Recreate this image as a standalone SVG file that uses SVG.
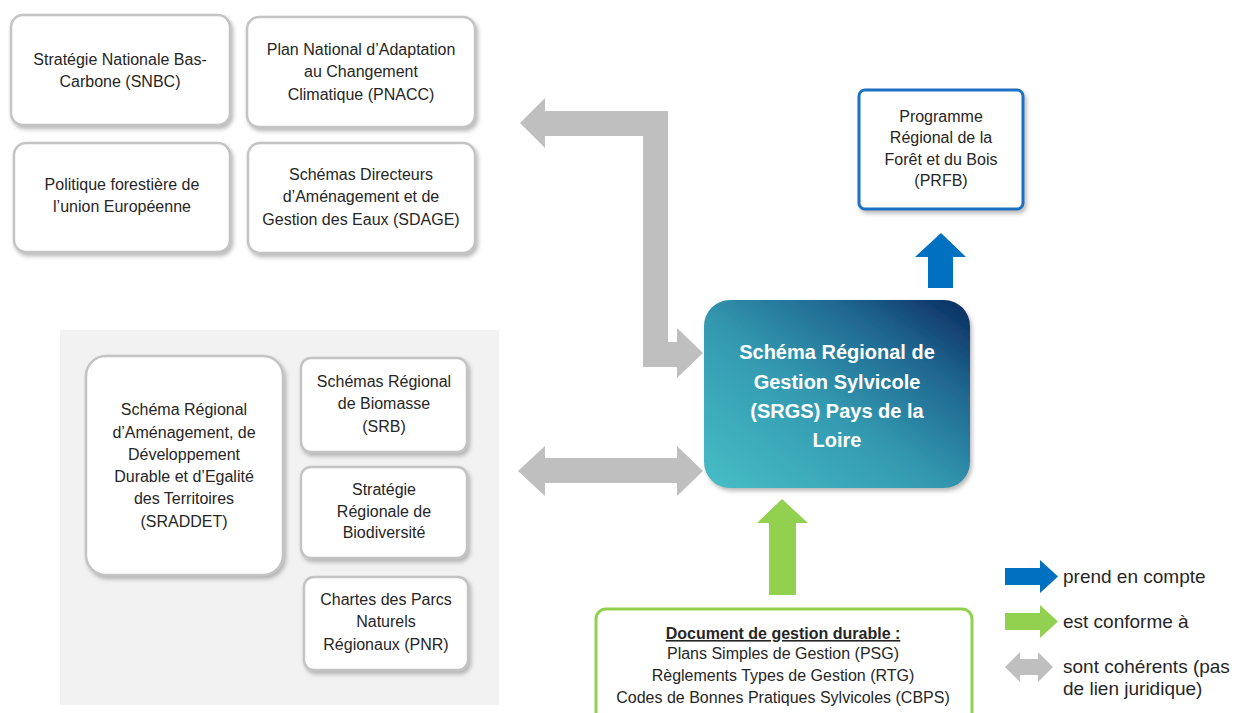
<svg xmlns="http://www.w3.org/2000/svg" width="1244" height="713" viewBox="0 0 1244 713">
<defs>
<style>
.box{fill:#fff;stroke:#c4c4c4;stroke-width:2.5;filter:url(#sh)}
.t{font-family:"Liberation Sans",Arial,sans-serif;font-size:16px;fill:#262626;text-anchor:middle}
.tb{font-family:"Liberation Sans",Arial,sans-serif;font-size:20px;font-weight:bold;fill:#fff;text-anchor:middle}
.lg{font-family:"Liberation Sans",Arial,sans-serif;font-size:19px;fill:#262626}
.gray{fill:#bfbfbf}
.blue{fill:#0070c0}
.green{fill:#92d050}
</style>
<filter id="sh" x="-10%" y="-10%" width="125%" height="130%">
<feDropShadow dx="2" dy="3" stdDeviation="2" flood-color="#808080" flood-opacity="0.55"/>
</filter>
<linearGradient id="gr" x1="0" y1="1" x2="1" y2="0">
<stop offset="0" stop-color="#47bec6"/>
<stop offset="0.45" stop-color="#3399b0"/>
<stop offset="0.75" stop-color="#1f6690"/>
<stop offset="1" stop-color="#0a2a5e"/>
</linearGradient>
</defs>
<rect width="1244" height="713" fill="#fff"/>
<rect x="60" y="330" width="439" height="375" fill="#f2f2f2"/>

<g id="snbc"><rect class="box" x="11" y="15" width="219" height="110" rx="12"/>
<text class="t" x="120" y="65">Stratégie Nationale Bas-</text><text class="t" x="120" y="87">Carbone (SNBC)</text></g>
<g id="pnacc"><rect class="box" x="247" y="17" width="228" height="110" rx="12"/>
<text class="t" x="361" y="55">Plan National d’Adaptation</text><text class="t" x="361" y="77">au Changement</text><text class="t" x="361" y="100">Climatique (PNACC)</text></g>
<g id="pfue"><rect class="box" x="14" y="143" width="216" height="109" rx="12"/>
<text class="t" x="122" y="190">Politique forestière de</text><text class="t" x="122" y="212">l’union Européenne</text></g>
<g id="sdage"><rect class="box" x="248" y="143" width="227" height="110" rx="12"/>
<text class="t" x="361" y="180">Schémas Directeurs</text><text class="t" x="361" y="202">d’Aménagement et de</text><text class="t" x="361" y="225">Gestion des Eaux (SDAGE)</text></g>

<g id="sraddet"><rect class="box" x="86" y="356" width="197" height="219" rx="20"/>
<text class="t" x="184" y="415">Schéma Régional</text><text class="t" x="184" y="438">d’Aménagement, de</text><text class="t" x="184" y="460">Développement</text><text class="t" x="184" y="482">Durable et d’Egalité</text><text class="t" x="184" y="504">des Territoires</text><text class="t" x="184" y="527">(SRADDET)</text></g>
<g id="srb"><rect class="box" x="301" y="358" width="166" height="94" rx="10"/>
<text class="t" x="384" y="387">Schémas Régional</text><text class="t" x="384" y="409">de Biomasse</text><text class="t" x="384" y="432">(SRB)</text></g>
<g id="srbio"><rect class="box" x="301" y="467" width="166" height="91" rx="10"/>
<text class="t" x="384" y="495">Stratégie</text><text class="t" x="384" y="517">Régionale de</text><text class="t" x="384" y="538">Biodiversité</text></g>
<g id="pnr"><rect class="box" x="304" y="577" width="164" height="93" rx="10"/>
<text class="t" x="386" y="605">Chartes des Parcs</text><text class="t" x="386" y="627">Naturels</text><text class="t" x="386" y="650">Régionaux (PNR)</text></g>

<g id="prfb"><rect x="859" y="90" width="164" height="119" rx="6" fill="#fff" stroke="#1a72c2" stroke-width="3" filter="url(#sh)"/>
<text class="t" x="941" y="122">Programme</text><text class="t" x="941" y="143">Régional de la</text><text class="t" x="941" y="165">Forêt et du Bois</text><text class="t" x="941" y="186">(PRFB)</text></g>

<g id="srgs"><rect x="704" y="300" width="266" height="188" rx="26" fill="url(#gr)" filter="url(#sh)"/>
<text class="tb" x="837" y="359">Schéma Régional de</text><text class="tb" x="837" y="389">Gestion Sylvicole</text><text class="tb" x="837" y="418">(SRGS) Pays de la</text><text class="tb" x="837" y="447">Loire</text></g>

<g id="dgd"><rect x="596" y="609" width="376" height="120" rx="10" fill="#fff" stroke="#92d050" stroke-width="3"/>
<text class="t" x="783" y="639" font-weight="bold" text-decoration="underline">Document de gestion durable :</text>
<text class="t" x="783" y="659">Plans Simples de Gestion (PSG)</text>
<text class="t" x="783" y="681">Règlements Types de Gestion (RTG)</text>
<text class="t" x="783" y="703">Codes de Bonnes Pratiques Sylvicoles (CBPS)</text></g>

<g id="connectors">
<path class="gray" d="M520,123 L545,98 L545,111 L668,111 L668,342 L677,342 L677,328 L703,353 L677,378 L677,367 L643,367 L643,136 L545,136 L545,148 Z"/>
<path class="gray" d="M518,471 L545,446 L545,458 L677,458 L677,446 L703,471 L677,496 L677,483 L545,483 L545,496 Z"/>
<path class="blue" d="M941,233 L966,257 L953,257 L953,288 L928,288 L928,257 L915,257 Z"/>
<path class="green" d="M782,499 L808,523 L796,523 L796,595 L769,595 L769,523 L757,523 Z"/>
</g>

<g id="legend">
<path class="blue" d="M1005,568 L1040,568 L1040,560 L1058,576.5 L1040,593 L1040,585 L1005,585 Z"/>
<text class="lg" x="1063" y="583">prend en compte</text>
<path class="green" d="M1005,613 L1040,613 L1040,605 L1058,621.5 L1040,638 L1040,630 L1005,630 Z"/>
<text class="lg" x="1063" y="628">est conforme à</text>
<path class="gray" d="M1005,667 L1020,652 L1020,659 L1038,659 L1038,652 L1053,667 L1038,682 L1038,675 L1020,675 L1020,682 Z"/>
<text class="lg" x="1063" y="673">sont cohérents (pas</text>
<text class="lg" x="1063" y="695">de lien juridique)</text>
</g>
</svg>
